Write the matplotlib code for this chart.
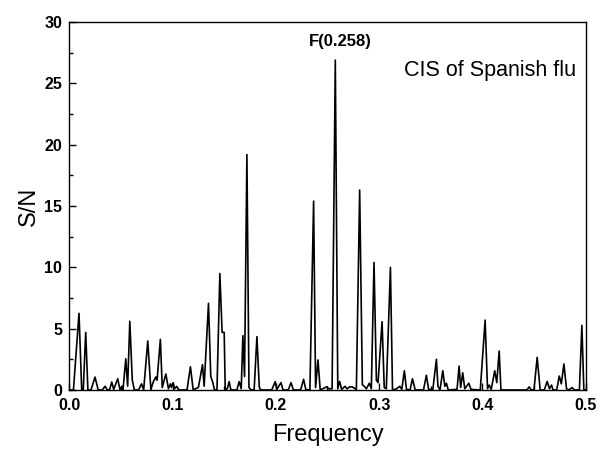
import matplotlib
matplotlib.use("Agg")
import matplotlib.pyplot as plt
from matplotlib.ticker import MultipleLocator

plt.rcParams['font.family'] = ['Liberation Sans', 'DejaVu Sans']

freq = [0.0, 0.004, 0.0094, 0.012, 0.0135, 0.0159, 0.018, 0.021, 0.0249, 0.028,
        0.032, 0.0346, 0.037, 0.039, 0.0411, 0.043, 0.0469, 0.049, 0.051, 0.052,
        0.0547, 0.0565, 0.0586, 0.061, 0.063, 0.067, 0.070, 0.072, 0.076, 0.079,
        0.081, 0.0838, 0.085, 0.0882, 0.090, 0.0935, 0.096, 0.098, 0.099, 0.1005,
        0.102, 0.104, 0.106, 0.114, 0.1173, 0.120, 0.122, 0.125, 0.129, 0.1306,
        0.1348, 0.137, 0.139, 0.1406, 0.143, 0.1458, 0.148, 0.150, 0.151, 0.153,
        0.1548, 0.1565, 0.1623, 0.1645, 0.1665, 0.1681, 0.1697, 0.172, 0.174, 0.1762,
        0.1790, 0.1817, 0.184, 0.1855, 0.196, 0.1994, 0.201, 0.205, 0.207, 0.212,
        0.2147, 0.217, 0.224, 0.2269, 0.229, 0.233, 0.2366, 0.2385, 0.2408, 0.243,
        0.2495, 0.251, 0.2525, 0.2545, 0.2576, 0.260, 0.2618, 0.2637, 0.267, 0.269,
        0.2715, 0.274, 0.278, 0.2812, 0.2838, 0.2857, 0.2877, 0.2906, 0.2925, 0.2951,
        0.2974, 0.2990, 0.3029, 0.305, 0.307, 0.311, 0.313, 0.317, 0.320, 0.322,
        0.3245, 0.3265, 0.330, 0.3323, 0.335, 0.343, 0.3458, 0.348, 0.352, 0.3555,
        0.357, 0.359, 0.3617, 0.3637, 0.3652, 0.367, 0.3755, 0.3775, 0.379, 0.381,
        0.383, 0.3869, 0.389, 0.398, 0.4027, 0.405, 0.4066, 0.4086, 0.412, 0.414,
        0.4163, 0.418, 0.443, 0.4454, 0.4474, 0.450, 0.4531, 0.456, 0.460, 0.4628,
        0.465, 0.467, 0.4685, 0.472, 0.4745, 0.4765, 0.479, 0.4815, 0.4835, 0.487,
        0.489, 0.494, 0.4964, 0.4983, 0.5]

sn = [0.0, 0.0, 6.25, 0.0, 0.0, 4.7, 0.0, 0.0, 1.05, 0.0,
      0.0, 0.3, 0.0, 0.0, 0.65, 0.05, 0.92, 0.05, 0.3, 0.0,
      2.55, 0.3, 5.6, 0.8, 0.0, 0.0, 0.5, 0.0, 4.0, 0.0,
      0.6, 1.06, 0.8, 4.13, 0.2, 1.3, 0.1, 0.5, 0.2, 0.6,
      0.1, 0.3, 0.0, 0.0, 1.9, 0.0, 0.1, 0.2, 2.06, 0.3,
      7.07, 1.1, 0.6, 0.0, 0.0, 9.5, 4.7, 4.7, 0.0, 0.1,
      0.68, 0.0, 0.0, 0.68, 0.1, 4.43, 1.1, 19.2, 0.2, 0.0,
      0.0, 4.35, 0.2, 0.0, 0.0, 0.68, 0.05, 0.6, 0.0, 0.0,
      0.6, 0.0, 0.0, 0.87, 0.05, 0.0, 15.4, 0.2, 2.45, 0.0,
      0.27, 0.1, 0.1, 0.1, 26.9, 0.1, 0.7, 0.05, 0.3, 0.1,
      0.25, 0.25, 0.05, 16.3, 0.43, 0.3, 0.1, 0.55, 0.1, 10.4,
      0.8, 0.6, 5.57, 0.2, 0.1, 10.0, 0.0, 0.1, 0.3, 0.05,
      1.57, 0.05, 0.0, 0.92, 0.0, 0.0, 1.2, 0.05, 0.0, 2.5,
      0.3, 0.0, 1.57, 0.3, 0.55, 0.0, 0.05, 1.95, 0.2, 1.4,
      0.1, 0.55, 0.05, 0.0, 5.7, 0.1, 0.4, 0.05, 1.57, 0.6,
      3.18, 0.0, 0.0, 0.25, 0.0, 0.0, 2.66, 0.0, 0.0, 0.7,
      0.1, 0.4, 0.0, 0.0, 1.14, 0.5, 2.12, 0.1, 0.0, 0.2,
      0.0, 0.0, 5.27, 0.0, 0.0]

peak_label = "F(0.258)"
title_text = "CIS of Spanish flu"
xticks = [0.0, 0.1, 0.2, 0.3, 0.4, 0.5]
yticks = [0, 5, 10, 15, 20, 25, 30]

fig = plt.figure(figsize=(6.0, 4.51), dpi=100)
ax = fig.add_axes([0.1155, 0.1353, 0.8605, 0.8157])
ax.plot(freq, sn, color='black', lw=1.2)
ax.set_xlim(0, 0.5)
ax.set_ylim(0, 30)
ax.set_xticks(xticks)
ax.set_yticks(yticks)
ax.set_xticklabels([f"{v:.1f}" for v in xticks], fontweight='bold', fontsize=11.5)
ax.set_yticklabels([str(v) for v in yticks], fontweight='bold', fontsize=11.5)
ax.xaxis.set_minor_locator(MultipleLocator(0.05))
ax.yaxis.set_minor_locator(MultipleLocator(2.5))
ax.tick_params(which='both', direction='in', top=False, right=False, width=1)
ax.tick_params(which='major', length=5)
ax.tick_params(which='minor', length=3)
ax.tick_params(axis='x', which='major', pad=6)
ax.tick_params(axis='y', which='major', pad=5)
for s in ax.spines.values():
    s.set_linewidth(1.0)
ax.set_xlabel("Frequency", fontsize=17, labelpad=8)
ax.set_ylabel("S/N", fontsize=17, labelpad=3)
ax.text(0.2625, 28.4, peak_label, ha='center', va='center', fontsize=12, fontweight='bold')
ax.text(0.4905, 25.6, title_text, ha='right', va='baseline', fontsize=15.5)
fig.savefig("out.png", dpi=100)
